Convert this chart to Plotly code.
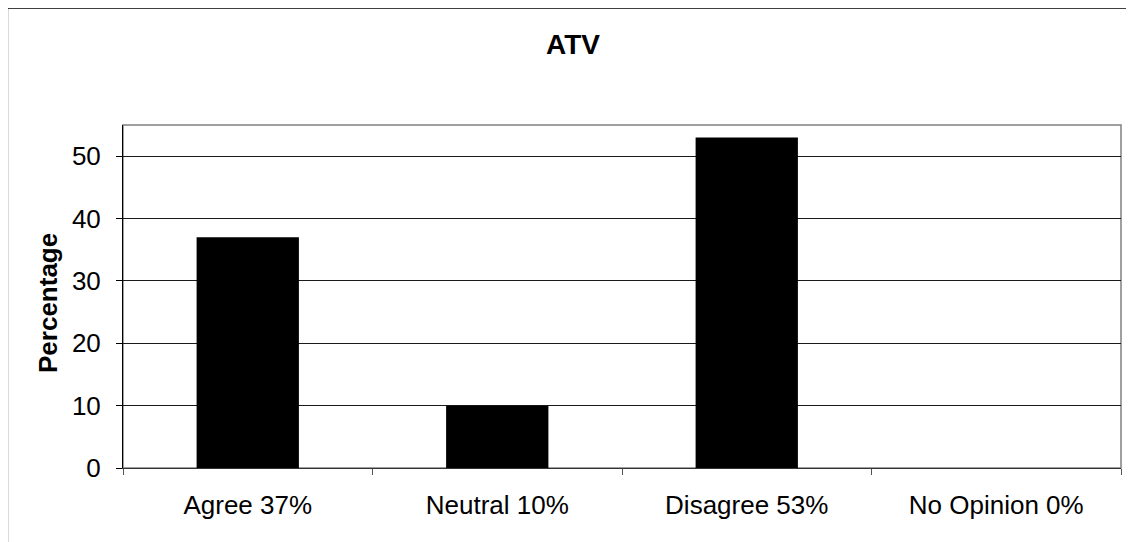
import plotly.graph_objects as go

categories = ["Agree 37%", "Neutral 10%", "Disagree 53%", "No Opinion 0%"]
values = [37, 10, 53, 0]
y_ticks = [0, 10, 20, 30, 40, 50]
title_text = "ATV"
y_title = "Percentage"

OFF = 8  # page body margin offset
W, H = 1134, 542
L = 123 - OFF
R = W - (1121 - OFF)
T = 125 - OFF
B = H - (468 - OFF)
pw = W - L - R
ph = H - T - B

def px_x(p):
    return (p - OFF - L) / pw

def px_y(p):
    return (H - B - (p - OFF)) / ph

fig = go.Figure()
fig.add_trace(go.Bar(x=categories, y=values, marker=dict(color="black", line=dict(width=0)),
                     width=0.41, showlegend=False))

font = "Liberation Sans, Arial, sans-serif"
fig.update_layout(
    width=W, height=H,
    margin=dict(l=L, r=R, t=T, b=B),
    paper_bgcolor="white", plot_bgcolor="white",
    font=dict(family=font, color="black"),
    xaxis=dict(type="category", showgrid=False, showline=True, linecolor="#333333", linewidth=1,
               ticks="outside", ticklen=6, tickcolor="#555555", tickson="boundaries",
               tickfont=dict(size=26, family=font, color="black"), range=[-0.5, 3.5],
               ticklabelstandoff=14),
    yaxis=dict(range=[0, 55], tickvals=y_ticks, showgrid=True, gridcolor="#1a1a1a", gridwidth=1,
               showline=True, linecolor="black", linewidth=1, ticks="outside", ticklen=6,
               tickcolor="black", tickfont=dict(size=26, family=font, color="black"),
               ticklabelstandoff=10, zeroline=False),
    shapes=[
        dict(type="rect", xref="paper", yref="paper", x0=0, x1=1, y0=0, y1=1,
             line=dict(color="#808080", width=1.5), layer="below"),
        dict(type="line", xref="paper", yref="paper", x0=px_x(7.5), x1=px_x(7.5),
             y0=px_y(560), y1=px_y(8), line=dict(color="black", width=1.3)),
        dict(type="line", xref="paper", yref="paper", x0=px_x(7.5), x1=px_x(1160),
             y0=px_y(8), y1=px_y(8), line=dict(color="black", width=1.3)),
    ],
    annotations=[
        dict(text="<b>%s</b>" % title_text, xref="paper", yref="paper", x=px_x(573), y=px_y(45),
             xanchor="center", yanchor="middle", showarrow=False,
             font=dict(size=28, family=font, color="black")),
        dict(text="<b>%s</b>" % y_title, xref="paper", yref="paper", x=px_x(48), y=px_y(303),
             xanchor="center", yanchor="middle", textangle=-90, showarrow=False,
             font=dict(size=26, family=font, color="black")),
    ],
)

fig.write_html("out.html")
